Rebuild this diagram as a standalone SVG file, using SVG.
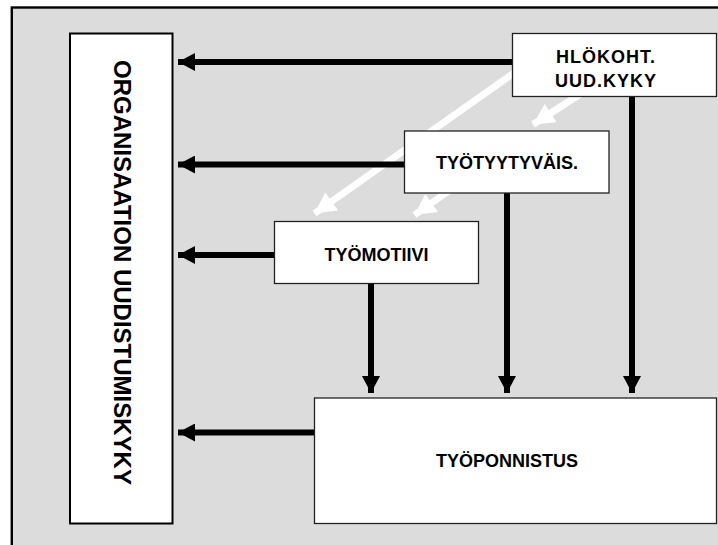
<svg xmlns="http://www.w3.org/2000/svg" width="718" height="545" viewBox="0 0 718 545">
<style>
.box{fill:#fff;stroke:#222;stroke-width:1.3}
.lbl{font-family:"Liberation Sans",Arial,sans-serif;font-weight:bold;font-size:18px;fill:#000;text-anchor:middle}
.blk{stroke:#000;stroke-width:6;fill:none}
.wht{stroke:#fff;stroke-width:7;fill:none}
</style>
<defs>
<marker id="ab" markerUnits="userSpaceOnUse" markerWidth="18" markerHeight="18" viewBox="0 0 17 18" refX="17" refY="9" orient="auto">
<path d="M0,0 L17,9 L0,18 Z" fill="#000"/>
</marker>
<marker id="aw" markerUnits="userSpaceOnUse" markerWidth="22" markerHeight="22" viewBox="0 0 21 22" refX="21" refY="11" orient="auto">
<path d="M0,0 L21,11 L0,22 Z" fill="#fff"/>
</marker>
</defs>
<rect x="0" y="0" width="718" height="545" fill="#fff"/>
<rect x="11.8" y="7.5" width="720" height="550" fill="#DCDCDC" stroke="#000" stroke-width="2.4"/>
<g id="connectors">
<path class="wht" d="M545,51 L314.5,213.5" marker-end="url(#aw)"/>
<path class="wht" d="M585,91 L533,124.5" marker-end="url(#aw)"/>
<path class="wht" d="M460,183 L414.5,215" marker-end="url(#aw)"/>
<path class="blk" d="M512,62 L178,62" marker-end="url(#ab)"/>
<path class="blk" d="M404,164.5 L178,164.5" marker-end="url(#ab)"/>
<path class="blk" d="M274,255 L178,255" marker-end="url(#ab)"/>
<path class="blk" d="M314,432.5 L178,432.5" marker-end="url(#ab)"/>
<path class="blk" d="M371,284 L371,393" marker-end="url(#ab)"/>
<path class="blk" d="M507,193 L507,393" marker-end="url(#ab)"/>
<path class="blk" d="M632,97 L632,393" marker-end="url(#ab)"/>
</g>
<g id="org">
<rect x="70" y="33.5" width="102.5" height="490" fill="#fff" stroke="#000" stroke-width="2"/>
<text class="lbl" style="font-size:24px" transform="translate(113.5,272.5) rotate(90)">ORGANISAATION UUDISTUMISKYKY</text>
</g>
<g id="hlokoht">
<rect class="box" x="512.5" y="33.5" width="204" height="63"/>
<text class="lbl" x="606" y="63.3" letter-spacing="1">HLÖKOHT.</text>
<text class="lbl" x="606" y="87.3" letter-spacing="1">UUD.KYKY</text>
</g>
<g id="tyotyytyvais">
<rect class="box" x="404.5" y="131" width="204.5" height="62"/>
<text class="lbl" x="507" y="169.3">TYÖTYYTYVÄIS.</text>
</g>
<g id="tyomotiivi">
<rect class="box" x="274.5" y="221.5" width="204" height="62"/>
<text class="lbl" x="376.5" y="260.7">TYÖMOTIIVI</text>
</g>
<g id="tyoponnistus">
<rect class="box" x="314.5" y="398" width="402" height="125.5"/>
<text class="lbl" x="507" y="466.7">TYÖPONNISTUS</text>
</g>
</svg>
